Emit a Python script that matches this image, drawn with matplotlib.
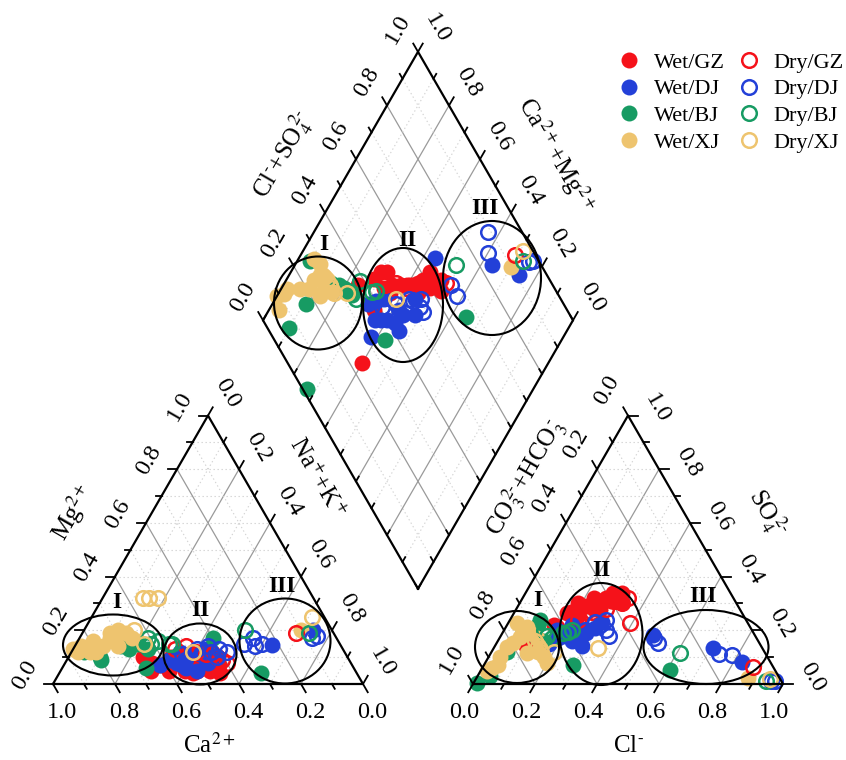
import numpy as np
import matplotlib
matplotlib.use('Agg')
import matplotlib.pyplot as plt
from matplotlib.patches import Ellipse
from matplotlib.lines import Line2D

plt.rcParams['font.family'] = ['Liberation Serif', 'DejaVu Serif']
plt.rcParams['mathtext.fontset'] = 'stix'

# ---------------- data (milliequivalent fractions) ----------------
# cations: Ca, Mg  (Na+K = 1 - Ca - Mg);  anions: Cl, SO4 (CO3+HCO3 = 1 - Cl - SO4)
gz_wet_ca  = [.64, .62, .53, .51, .49, .46, .49, .60, .55, .45, .43, .57, .53, .55, .55, .50, .47, .60, .66, .44, .66]
gz_wet_mg  = [.08, .07, .06, .05, .06, .09, .11, .05, .07, .08, .07, .10, .04, .05, .09, .08, .05, .06, .10, .04, .05]
gz_wet_cl  = [.17, .19, .24, .27, .30, .23, .25, .20, .22, .28, .31, .18, .26, .10, .21, .27, .29, .164, .15, .33, .20]
gz_wet_so4 = [.265, .30, .30, .32, .33, .32, .28, .28, .29, .34, .34, .27, .31, .14, .25, .28, .31, .213, .22, .30, .27]

gz_dry_ca  = [.12, .42, .41, .48, .42, .43, .54, .45, .40, .50]
gz_dry_mg  = [.19, .10, .09, .12, .10, .11, .13, .11, .08, .14]
gz_dry_cl  = [.871, .31, .33, .25, .393, .30, .22, .29, .34, .23]
gz_dry_so4 = [.063, .31, .30, .27, .227, .31, .24, .28, .32, .27]

dj_wet_ca  = [.46, .22, .06, .52, .46, .46, .58, .55, .47, .54, .53, .51, .56, .62, .42, .44]
dj_wet_mg  = [.10, .145, .20, .10, .08, .09, .09, .07, .11, .06, .12, .05, .08, .07, .10, .13]
dj_wet_cl  = [.489, .707, .827, .20, .28, .30, .22, .17, .26, .24, .21, .27, .19, .17, .29, .25]
dj_wet_so4 = [.183, .134, .082, .18, .14, .23, .18, .148, .20, .16, .22, .19, .17, .20, .21, .17]

dj_dry_ca  = [.27, .31, .08, .25, .28, .43, .47, .42, .53, .38, .43, .53, .40, .06]
dj_dry_mg  = [.17, .15, .17, .15, .14, .12, .13, .10, .11, .12, .14, .09, .13, .18]
dj_dry_cl  = [.781, .52, .955, .74, .50, .30, .26, .33, .22, .35, .28, .24, .31, .97]
dj_dry_so4 = [.108, .153, .012, .11, .17, .22, .20, .20, .19, .18, .23, .17, .24, .01]

bj_wet_ca  = [.40, .31, .67, .80, .63, .84, .71, .69, .80, .65]
bj_wet_mg  = [.17, .04, .06, .10, .13, .12, .14, .13, .09, .15]
bj_wet_cl  = [.287, .61, .01, .04, .097, .06, .12, .15, .05, .10]
bj_wet_so4 = [.071, .052, .003, .03, .238, .20, .17, .16, .12, .22]

bj_dry_ca  = [.28, .08, .61, .58, .55, .63, .61, .54]
bj_dry_mg  = [.20, .19, .15, .16, .15, .14, .17, .15]
bj_dry_cl  = [.61, .94, .195, .17, .21, .15, .13, .22]
bj_dry_so4 = [.115, .01, .19, .17, .195, .18, .20, .20]

xj_wet_ca  = [.84, .86, .82, .77, .72, .69, .67, .66, .72, .79, .73, .84, .80, .10, .72, .87]
xj_wet_mg  = [.14, .12, .12, .14, .19, .20, .19, .17, .14, .16, .17, .13, .12, .20, .16, .13]
xj_wet_cl  = [.046, .036, .039, .054, .064, .067, .116, .199, .028, .089, .15, .02, .12, .876, .18, .03]
xj_wet_so4 = [.07, .10, .139, .152, .176, .213, .114, .077, .226, .189, .12, .05, .17, .022, .10, .06]

xj_dry_ca  = [.55, .53, .50, .63, .49, .04, .64]
xj_dry_mg  = [.32, .32, .32, .15, .12, .25, .20]
xj_dry_cl  = [.14, .15, .16, .20, .336, .95, .12]
xj_dry_so4 = [.14, .13, .12, .12, .134, .018, .16]

series = [
    ('Wet/GZ', gz_wet_ca, gz_wet_mg, gz_wet_cl, gz_wet_so4, '#F5121A', True),
    ('Wet/DJ', dj_wet_ca, dj_wet_mg, dj_wet_cl, dj_wet_so4, '#2340D8', True),
    ('Wet/BJ', bj_wet_ca, bj_wet_mg, bj_wet_cl, bj_wet_so4, '#179B63', True),
    ('Wet/XJ', xj_wet_ca, xj_wet_mg, xj_wet_cl, xj_wet_so4, '#EEC46F', True),
    ('Dry/GZ', gz_dry_ca, gz_dry_mg, gz_dry_cl, gz_dry_so4, '#F5121A', False),
    ('Dry/DJ', dj_dry_ca, dj_dry_mg, dj_dry_cl, dj_dry_so4, '#2340D8', False),
    ('Dry/BJ', bj_dry_ca, bj_dry_mg, bj_dry_cl, bj_dry_so4, '#179B63', False),
    ('Dry/XJ', xj_dry_ca, xj_dry_mg, xj_dry_cl, xj_dry_so4, '#EEC46F', False),
]

# ---------------- geometry ----------------
U = 310.0                 # triangle side in pixels
GAP = 110 / U
SQ = np.sqrt(3) / 2
OFF = 1 + GAP
BX, BY = 1 + GAP / 2, GAP / 2 * np.sqrt(3)
uvec = np.array([-0.5, SQ])
vvec = np.array([0.5, SQ])


def cation_xy(ca, mg):
    ca = np.asarray(ca, float); mg = np.asarray(mg, float)
    nak = 1 - ca - mg
    return nak + mg / 2, mg * SQ


def anion_xy(cl, so4):
    cl = np.asarray(cl, float); so4 = np.asarray(so4, float)
    return OFF + cl + so4 / 2, so4 * SQ


def diamond_xy(cm, an):
    cm = np.asarray(cm, float); an = np.asarray(an, float)
    return BX + 0.5 * (an - cm), BY + SQ * (an + cm)


def P(dx, dy):
    return np.array([dx / U, -dy / U])


fig = plt.figure(figsize=(8.46, 7.6), dpi=100)
ax = fig.add_axes([0, 0, 1, 1])
ax.set_xlim(-53 / U, (846 - 53) / U)
ax.set_ylim((684 - 760) / U, 684 / U)
ax.axis('off')

GRID_SOLID = dict(color='#9a9a9a', lw=0.9, zorder=1)
GRID_DOT = dict(color='#d2d2d2', lw=0.8, ls=(0, (1.2, 2.4)), zorder=1)
EDGE = dict(color='black', lw=1.6, zorder=4, solid_capstyle='projecting')
TICK = dict(color='black', lw=1.3, zorder=4)


def seg(p, q, **kw):
    ax.plot([p[0], q[0]], [p[1], q[1]], **kw)


vals = np.round(np.arange(0, 1.01, 0.1), 1)
inner = vals[1:-1]

# ---------------- grids ----------------
for v in inner:
    major = abs(v * 10 % 2) < 1e-6
    kw = GRID_SOLID if major else GRID_DOT
    # left triangle
    seg(cation_xy(v, 0), cation_xy(v, 1 - v), **kw)          # const Ca
    seg(cation_xy(1 - v, 0), cation_xy(0, 1 - v), **kw)      # const Na+K
    seg(cation_xy(1 - v, v), cation_xy(0, v), **GRID_DOT)    # const Mg
    # right triangle
    seg(anion_xy(v, 0), anion_xy(v, 1 - v), **kw)            # const Cl
    seg(anion_xy(1 - v, 0), anion_xy(0, 1 - v), **kw)        # const HCO3
    seg(anion_xy(0, v), anion_xy(1 - v, v), **GRID_DOT)      # const SO4
    # diamond
    seg(diamond_xy(0, v), diamond_xy(1, v), **kw)
    seg(diamond_xy(v, 0), diamond_xy(v, 1), **kw)

# ---------------- outlines ----------------
tri_l = [cation_xy(1, 0), cation_xy(0, 0), cation_xy(0, 1), cation_xy(1, 0)]
tri_r = [anion_xy(0, 0), anion_xy(1, 0), anion_xy(0, 1), anion_xy(0, 0)]
dia = [diamond_xy(0, 0), diamond_xy(1, 0), diamond_xy(1, 1), diamond_xy(0, 1), diamond_xy(0, 0)]
for poly in (tri_l, tri_r, dia):
    ax.plot([p[0] for p in poly], [p[1] for p in poly], **EDGE)

# ---------------- ticks & tick labels ----------------
FS_TICK = 17.5


def axis_ticks(pointfn, direction, label_off, rot, labels=True, inward=False):
    d = np.array(direction, float)
    d = d / np.hypot(*d)
    for v in vals:
        p = np.array(pointfn(v), float)
        major = abs(v * 10 % 2) < 1e-6
        L = (9.5 if major else 5.5) / U
        if inward:
            L = 5.5 / U
        seg(p, p + d * L, **TICK)
        if labels and major:
            q = p + label_off
            ax.text(q[0], q[1], f'{v:.1f}', fontsize=FS_TICK, rotation=rot,
                    ha='center', va='center', rotation_mode='anchor', zorder=6)


# left triangle
axis_ticks(lambda v: cation_xy(v, 0), (0.5, -SQ), P(9, 29), 0)
axis_ticks(lambda v: cation_xy(1 - v, v), (-1, 0), P(-28, -9), 60)
axis_ticks(lambda v: cation_xy(0, 1 - v), (0.5, SQ), P(19, -22), -60)
# right triangle
axis_ticks(lambda v: anion_xy(v, 0), (-0.5, -SQ), P(-9, 29), 0)
axis_ticks(lambda v: anion_xy(0, 1 - v), (-0.5, SQ), P(-21, -25), 60)
axis_ticks(lambda v: anion_xy(1 - v, v), (1, 0), P(29, -7), -60)
# diamond
axis_ticks(lambda v: diamond_xy(1, v), uvec, P(-20, -23), 60)
axis_ticks(lambda v: diamond_xy(v, 1), vvec, P(19, -23), -60)
axis_ticks(lambda v: diamond_xy(v, 0), vvec, None, 0, labels=False, inward=True)
axis_ticks(lambda v: diamond_xy(0, v), uvec, None, 0, labels=False, inward=True)

# ---------------- axis titles ----------------
FS_T = 18


def title(p, off, s, rot):
    q = np.array(p, float) + off
    ax.text(q[0], q[1], s, fontsize=FS_T, rotation=rot, ha='center', va='center',
            rotation_mode='anchor', zorder=6)


title(cation_xy(0.5, 0), P(1, 61), 'Ca$^{2+}$', 0)
title(cation_xy(0.5, 0.5), P(-58, -37), 'Mg$^{2+}$', 60)
title(cation_xy(0, 0.5), P(31, -72), 'Na$^{+}$+K$^{+}$', -60)
title(anion_xy(0.5, 0), P(0, 62), 'Cl$^{\\text{-}}$', 0)
title(anion_xy(0, 0.5), P(-25, -72), 'CO$_3^{\\,2\\text{-}}$+HCO$_3^{\\,\\text{-}}$', 60)
title(anion_xy(0.5, 0.5), P(62, -37), 'SO$_4^{\\,2\\text{-}}$', -60)
title(diamond_xy(1, 0.5), P(-58, -31), 'Cl$^{\\text{-}}$+SO$_4^{\\,2\\text{-}}$', 60)
title(diamond_xy(0.5, 1), P(61, -31), 'Ca$^{2+}$+Mg$^{2+}$', -60)

# ---------------- data points ----------------
MS = 11.5
for name, ca, mg, cl, so4, col, filled in series:
    ca = np.array(ca); mg = np.array(mg); cl = np.array(cl); so4 = np.array(so4)
    xs = [cation_xy(ca, mg), anion_xy(cl, so4), diamond_xy(ca + mg, cl + so4)]
    for x, y in xs:
        if filled:
            ax.plot(x, y, 'o', ms=MS, mfc=col, mec=col, mew=0, ls='none', zorder=3)
        else:
            ax.plot(x, y, 'o', ms=MS - 1, mfc='none', mec=col, mew=1.8, ls='none', zorder=3)

# ---------------- groups (ellipses) ----------------
def px2u(x, y):
    return ((x - 53) / U, (684 - y) / U)


ellipses = [  # centre (px), width, height (px), label, label position (px)
    ((113, 645), 100, 61, 'I', (117, 603)),
    ((200, 654), 73, 61, 'II', (200, 610)),
    ((285, 641), 91, 85, 'III', (282, 587)),
    ((517, 647), 84, 72, 'I', (538, 600)),
    ((601, 634), 83, 102, 'II', (601, 571)),
    ((706, 647), 125, 74, 'III', (703, 596)),
    ((318, 303), 88, 93, 'I', (324, 245)),
    ((403, 305), 80, 114, 'II', (407, 240)),
    ((492, 278), 98, 114, 'III', (485, 208)),
]
for c, w, h, lab, lp in ellipses:
    ax.add_patch(Ellipse(px2u(*c), w / U, h / U, fill=False, ec='black', lw=1.5, zorder=5))
    lx, ly = px2u(*lp)
    ax.text(lx, ly, lab, fontsize=17, fontweight='bold', ha='center', va='center', zorder=6)

# ---------------- legend ----------------
handles = []
for name, ca, mg, cl, so4, col, filled in series:
    if filled:
        h = Line2D([], [], marker='o', ls='none', ms=MS, mfc=col, mec=col, mew=0, label=name)
    else:
        h = Line2D([], [], marker='o', ls='none', ms=MS - 1, mfc='none', mec=col, mew=1.8, label=name)
    handles.append(h)
fig.legend(handles=handles, ncol=2, loc='upper left', bbox_to_anchor=(598 / 846, 1 - 32 / 760),
           frameon=False, fontsize=16, handlelength=1.0, handletextpad=0.6,
           columnspacing=0.6, labelspacing=0.28, borderpad=0.4)

fig.savefig('out.png', dpi=100)
